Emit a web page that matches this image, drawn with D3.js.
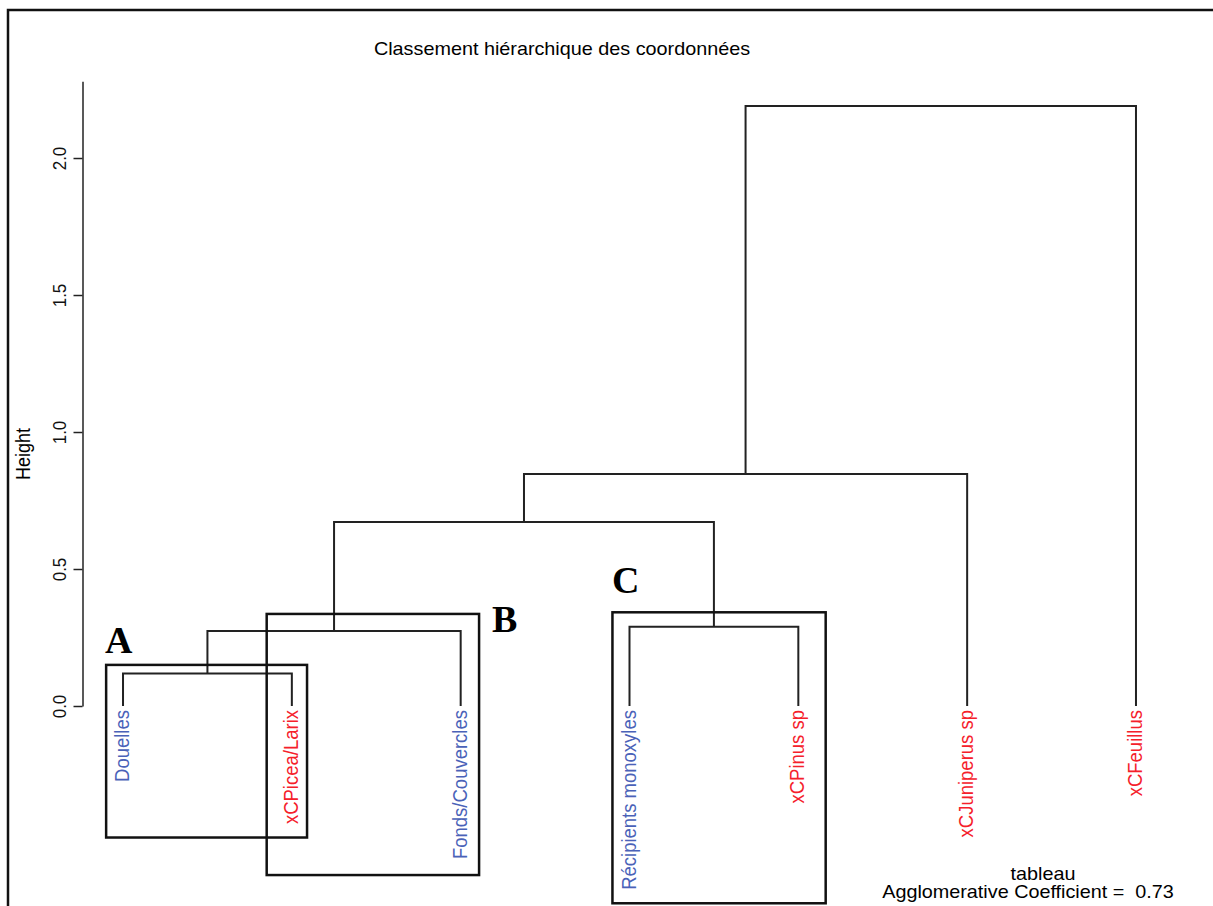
<!DOCTYPE html>
<html>
<head>
<meta charset="utf-8">
<script src="https://cdn.jsdelivr.net/npm/d3@7"></script>
<style>
  body { margin: 0; background: #fff; }
  text { font-family: "Liberation Sans", Arial, sans-serif; }
</style>
</head>
<body>
<div id="chart"></div>
<script>
// leaves, in the order R gives them (labels and colour group)
const labels = ["Douelles", "xCPicea/Larix", "Fonds/Couvercles", "Récipients monoxyles", "xCPinus sp", "xCJuniperus sp", "xCFeuillus"];
const groups = ["objet", "bois", "objet", "objet", "bois", "bois", "bois"];
// hclust-style merge matrix (negative = leaf, positive = earlier step) and heights
const merges = [[-1, -2], [1, -3], [-4, -5], [2, 3], [4, -6], [5, -7]];
const heights = [0.119, 0.274, 0.289, 0.672, 0.847, 2.19];
const yTicks = [0, 0.5, 1, 1.5, 2];
// hand drawn boxes: [leaf from, leaf to, height top, height bottom]
const boxes = [[0.9, 2.09, 0.15, -0.48], [1.851, 3.109, 0.336, -0.617], [3.899, 5.162, 0.342, -0.72]];
const boxLetters = [["A", 0.893, 0.193], ["B", 3.186, 0.27], ["C", 3.897, 0.412]];

const width = 1213;
const height = 906;
const sx = 1.1; // picture is a little wider than tall

const svg = d3.select("#chart").append("svg")
  .attr("width", width)
  .attr("height", height);

const x = d3.scaleLinear().domain([0.76, 7.24]).range([82.5, 1176.5]);
const y = d3.scaleLinear().domain([0, 2.28]).range([706, 81.3]);

const color = d3.scaleOrdinal().domain(["objet", "bois"]).range(["#4a62b8", "#f5202a"]);

// outer frame (runs off the right and bottom edges)
svg.append("rect")
  .attr("x", 8).attr("y", 10)
  .attr("width", 1230).attr("height", 920)
  .attr("fill", "none").attr("stroke", "#111").attr("stroke-width", 2.5);

svg.append("text")
  .attr("transform", `translate(562,55) scale(${sx},1)`)
  .attr("text-anchor", "middle")
  .style("font-size", "18px")
  .text("Classement hiérarchique des coordonnées");

// axis
const axis = svg.append("g")
  .attr("transform", `translate(${x(0.76)},0)`)
  .call(d3.axisLeft(y).tickValues(yTicks).tickFormat(d3.format(".1f")).tickSize(9).tickSizeOuter(0));
axis.selectAll("path, line").attr("stroke", "#222").attr("stroke-width", 1.5);
axis.selectAll("text").remove();
axis.selectAll(".tick").append("text")
  .attr("transform", `translate(-17,0) scale(${sx},1) rotate(-90)`)
  .attr("text-anchor", "middle")
  .attr("fill", "#111")
  .style("font-size", "17px")
  .text((d) => d3.format(".1f")(d));

svg.append("text")
  .attr("transform", `translate(30,454) scale(${sx},1) rotate(-90)`)
  .attr("text-anchor", "middle")
  .style("font-size", "18px")
  .text("Height");

// tree layout: node positions from the merge matrix
const nodeX = [];
const nodeH = [];
let order = [];
function leaves(k) {
  return k < 0 ? [-k - 1] : leaves(merges[k - 1][0]).concat(leaves(merges[k - 1][1]));
}
order = leaves(merges.length);
const pos = {};
order.forEach((leaf, i) => { pos[leaf] = i + 1; });
function px(k) { return k < 0 ? pos[-k - 1] : nodeX[k - 1]; }
function ph(k) { return k < 0 ? 0 : nodeH[k - 1]; }
merges.forEach((m, i) => {
  nodeX[i] = (px(m[0]) + px(m[1])) / 2;
  nodeH[i] = heights[i];
});

svg.append("g").selectAll("path")
  .data(merges)
  .join("path")
  .attr("d", (m, i) => `M${x(px(m[0]))},${y(ph(m[0]))}V${y(heights[i])}H${x(px(m[1]))}V${y(ph(m[1]))}`)
  .attr("fill", "none")
  .attr("stroke", "#222")
  .attr("stroke-width", 2);

svg.append("g").selectAll("text")
  .data(order)
  .join("text")
  .attr("transform", (leaf) => `translate(${x(pos[leaf]) + 6},710) scale(${sx},1) rotate(-90)`)
  .attr("text-anchor", "end")
  .attr("fill", (leaf) => color(groups[leaf]))
  .style("font-size", "18.5px")
  .text((leaf) => labels[leaf]);

// boxes and letters
svg.append("g").selectAll("rect")
  .data(boxes)
  .join("rect")
  .attr("x", (b) => x(b[0]))
  .attr("y", (b) => y(b[2]))
  .attr("width", (b) => x(b[1]) - x(b[0]))
  .attr("height", (b) => y(b[3]) - y(b[2]))
  .attr("fill", "none")
  .attr("stroke", "#111")
  .attr("stroke-width", 2.5);

svg.append("g").selectAll("text")
  .data(boxLetters)
  .join("text")
  .attr("x", (d) => x(d[1]))
  .attr("y", (d) => y(d[2]))
  .style("font-family", "'Liberation Serif', 'Times New Roman', serif")
  .style("font-weight", "bold")
  .style("font-size", "38px")
  .text((d) => d[0]);

svg.append("text")
  .attr("transform", `translate(1043,880) scale(${sx},1)`)
  .attr("text-anchor", "middle")
  .style("font-size", "18px")
  .text("tableau");
svg.append("text")
  .attr("transform", `translate(1028,898) scale(${sx},1)`)
  .attr("text-anchor", "middle")
  .style("font-size", "18px")
  .style("white-space", "pre")
  .text("Agglomerative Coefficient =  0.73");
</script>
</body>
</html>
